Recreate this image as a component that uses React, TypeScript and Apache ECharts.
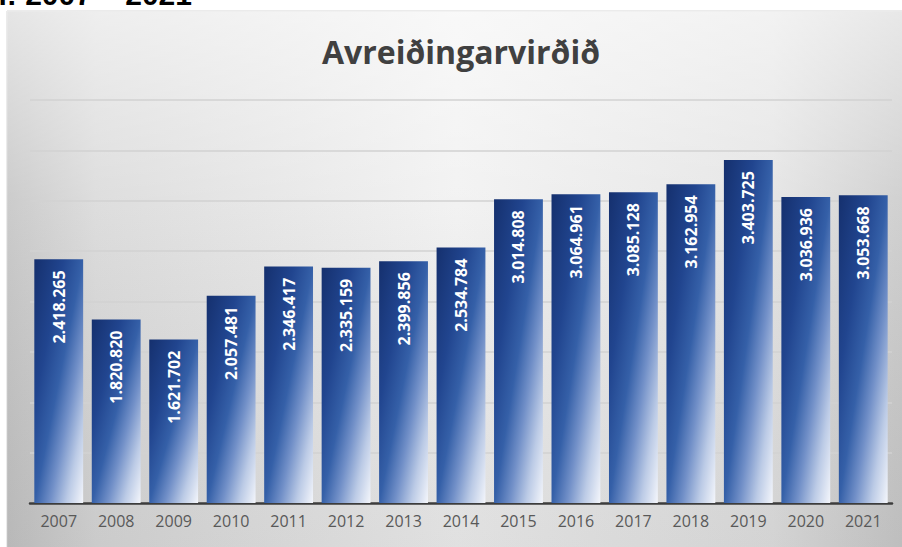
import React, { useEffect, useRef } from "react";
import * as echarts from "echarts";

const years = ["2007", "2008", "2009", "2010", "2011", "2012", "2013", "2014", "2015", "2016", "2017", "2018", "2019", "2020", "2021"];
const values = [2418265, 1820820, 1621702, 2057481, 2346417, 2335159, 2399856, 2534784, 3014808, 3064961, 3085128, 3162954, 3403725, 3036936, 3053668];
const chartTitle = "Avreiðingarvirðið";
const headText = "ári: 2007 – 2021";
const yMax = 4000000;
const yStep = 500000;

function fmt(v: number): string {
  return String(v).replace(/\B(?=(\d{3})+(?!\d))/g, ".");
}

export default function App() {
  const ref = useRef<HTMLDivElement>(null);
  useEffect(() => {
    if (!ref.current) return;
    const chart = echarts.init(ref.current, null, { renderer: "svg" });
    chart.setOption({
      animation: false,
      backgroundColor: "#ffffff",
      graphic: [
        {
          type: "rect",
          z: -10,
          shape: { x: 7, y: 11, width: 900, height: 540 },
          style: {
            fill: new echarts.graphic.LinearGradient(0, 0, 1, 0, [
              { offset: 0, color: "#c6c6c6" },
              { offset: 0.1, color: "#dadada" },
              { offset: 0.5, color: "#f1f1f1" },
              { offset: 0.85, color: "#e3e3e3" },
              { offset: 1, color: "#cbcbcb" },
            ]),
            stroke: "#d6d6d6",
            lineWidth: 1,
          },
        },
        {
          type: "rect",
          z: -9,
          shape: { x: 7, y: 11, width: 900, height: 540 },
          style: {
            fill: new echarts.graphic.LinearGradient(0, 0, 0, 1, [
              { offset: 0, color: "rgba(255,255,255,0.55)" },
              { offset: 0.35, color: "rgba(255,255,255,0.1)" },
              { offset: 1, color: "rgba(0,0,0,0.07)" },
            ]),
          },
        },
        {
          type: "text",
          z: 10,
          style: {
            text: chartTitle,
            x: 461,
            y: 51,
            align: "center",
            verticalAlign: "middle",
            fontFamily: "Open Sans",
            fontWeight: "bold",
            fontSize: 32,
            fill: "#404040",
          },
        },
        {
          type: "text",
          z: 10,
          style: {
            text: headText,
            x: 192,
            y: -6,
            align: "right",
            verticalAlign: "middle",
            fontFamily: "Liberation Sans",
            fontWeight: "bold",
            fontSize: 30,
            fill: "#000000",
          },
        },
      ],
      grid: { left: 30, right: 10, top: 100, bottom: 44 },
      xAxis: {
        type: "category",
        data: years,
        axisLine: { show: true, lineStyle: { color: "#3c3c3c", width: 2.5 } },
        axisTick: { show: false },
        axisLabel: {
          color: "#595959",
          fontFamily: "Open Sans",
          fontSize: 16,
          margin: 10,
        },
      },
      yAxis: {
        type: "value",
        min: 0,
        max: yMax,
        interval: yStep,
        axisLine: { show: false },
        axisTick: { show: false },
        axisLabel: { show: false },
        splitLine: { show: true, lineStyle: { color: "#d2d2d2", width: 1.5 } },
      },
      series: [
        {
          type: "bar",
          data: values,
          barCategoryGap: "15%",
          itemStyle: {
            color: new echarts.graphic.LinearGradient(0, 0, 1, 1, [
              { offset: 0, color: "#15306e" },
              { offset: 0.3, color: "#21458f" },
              { offset: 0.5, color: "#3560a8" },
              { offset: 0.66, color: "#7290c8" },
              { offset: 0.83, color: "#bccbe6" },
              { offset: 1, color: "#f4f6fb" },
            ]),
          },
          label: {
            show: true,
            position: "insideTop",
            rotate: 90,
            align: "right",
            verticalAlign: "middle",
            distance: 11,
            color: "#ffffff",
            fontFamily: "Open Sans",
            fontWeight: "bold",
            fontSize: 16,
            formatter: (p: any) => fmt(p.value),
          },
        },
      ],
    });
    return () => chart.dispose();
  }, []);
  return (
    <div
      ref={ref}
      style={{ position: "fixed", left: 0, top: 0, width: 902, height: 547 }}
    />
  );
}
